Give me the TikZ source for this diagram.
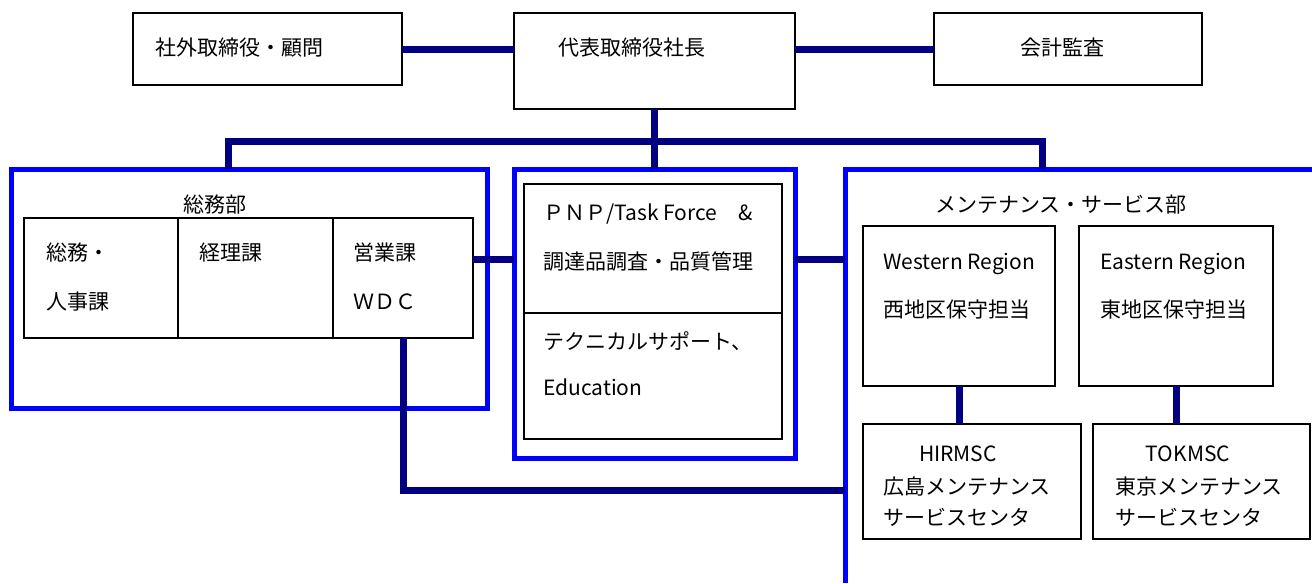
\documentclass[tikz,border=0pt]{standalone}
\usepackage{fontspec}
\setmainfont{Noto Sans CJK JP}

\definecolor{navyline}{RGB}{0,0,128}
\definecolor{groupblue}{RGB}{0,0,255}

\tikzset{
  box/.style={draw=black,line width=1.1pt,fill=white,anchor=north west,inner sep=0pt,outer sep=0pt},
  group/.style={draw=groupblue,line width=3.75pt,anchor=north west,inner sep=0pt,outer sep=0pt},
  link/.style={draw=navyline,line width=5.25pt,line join=miter},
  txt/.style={anchor=west,inner sep=0pt,text height=13pt,text depth=2.5pt},
  ctxt/.style={txt,anchor=center}
}

\begin{document}
\begin{tikzpicture}[x=0.75pt,y=-0.75pt,font=\fontsize{15.75}{18}\selectfont]
   \useasboundingbox (0,0) rectangle (1312,583) ;
   %\draw[very thin,gray,step=50] (0,0) grid (1312,583) ;

   % groups
   \node[group,minimum width=357pt,minimum height=179.25pt] (soumu) at (11,169) {} ;
   \node[group,minimum width=210.75pt,minimum height=216.75pt] (pnp) at (514,169) {} ;
   \coordinate (mleft) at (845,169) ;
   \draw[groupblue,line width=3.75pt] (845,583) -- (mleft) -- (1312,169) ;

   % links
   \coordinate (busL) at (228,141) ;
   \coordinate (busR) at (1042,141) ;
   \coordinate (row) at (0,259) ;
   \draw[link] (busL |- soumu.north) -- (busL) -- (busR) -- (busR |- mleft) ;

   % top row
   \node[box,minimum width=201.75pt,minimum height=54pt] (shagai) at (133,13) {} ;
   \node[box,minimum width=210.75pt,minimum height=72pt] (daihyo) at (514,13) {} ;
   \node[box,minimum width=201pt,minimum height=54pt] (kansa) at (934,13) {} ;
   \draw[link] (shagai.east) -- (shagai.east -| daihyo.west) ;
   \draw[link] (kansa.west -| daihyo.east) -- (kansa.west) ;
   \draw[link] (daihyo.south) -- (daihyo.south |- pnp.north) ;
   \node[txt] (shagaiT) at (155,48) {社外取締役・顧問} ;
   \node[txt] (daihyoT) at (558,48) {代表取締役社長} ;
   \node[ctxt] (kansaT) at (1062,48) {会計監査} ;

   % soumu
   \node[ctxt] (soumuT) at (215,205) {総務部} ;
   \node[box,minimum width=115.5pt,minimum height=90pt] (ka1) at (24,218) {} ;
   \node[box,minimum width=116.25pt,minimum height=90pt] (ka2) at (178,218) {} ;
   \node[box,minimum width=105pt,minimum height=90pt] (ka3) at (333,218) {} ;
   \node[txt] (ka1a) at (46,253) {総務・} ;
   \node[txt] (ka1b) at (46,302) {人事課} ;
   \node[txt] (ka2a) at (199,253) {経理課} ;
   \node[txt] (ka3a) at (353,253) {営業課} ;
   \node[txt] (ka3b) at (353,302) {ＷＤＣ} ;
   \draw[link] (ka3.east |- row) -- (pnp.west |- row) ;
   \draw[link] (ka3.south) |- (845,490) ;

   % pnp
   \node[box,minimum width=193.5pt,minimum height=96.75pt] (pnp1) at (524,184) {} ;
   \node[box,minimum width=193.5pt,minimum height=94.5pt] (pnp2) at (524,313) {} ;
   \node[txt] (pnp1a) at (543,213) {ＰＮＰ/Task Force　\&} ;
   \node[txt] (pnp1b) at (543,262) {調達品調査・品質管理} ;
   \node[txt] (pnp2a) at (543,342) {テクニカルサポート、} ;
   \node[txt] (pnp2b) at (543,388) {Education} ;
   \draw[link] (pnp.east |- row) -- (mleft |- row) ;

   % maintenance
   \node[ctxt] (maintT) at (1061,205) {メンテナンス・サービス部} ;
   \node[box,minimum width=144pt,minimum height=120pt] (west) at (863,226) {} ;
   \node[box,minimum width=145.5pt,minimum height=120pt] (east) at (1079,226) {} ;
   \node[box,minimum width=163.5pt,minimum height=86.25pt] (hir) at (863,424) {} ;
   \node[box,minimum width=162.75pt,minimum height=86.25pt] (tok) at (1093,424) {} ;
   \draw[link] (west.south) -- (west.south |- hir.north) ;
   \draw[link] (east.south) -- (east.south |- tok.north) ;
   \node[txt] (westa) at (883,262) {Western Region} ;
   \node[txt] (westb) at (883,310) {西地区保守担当} ;
   \node[txt] (easta) at (1100,262) {Eastern Region} ;
   \node[txt] (eastb) at (1100,310) {東地区保守担当} ;
   \node[ctxt] (hira) at (958,454) {HIRMSC} ;
   \node[txt] (hirb) at (883,487) {広島メンテナンス} ;
   \node[txt] (hirc) at (883,518) {サービスセンタ} ;
   \node[ctxt] (toka) at (1188,454) {TOKMSC} ;
   \node[txt] (tokb) at (1115,487) {東京メンテナンス} ;
   \node[txt] (tokc) at (1115,518) {サービスセンタ} ;
\end{tikzpicture}
\end{document}
